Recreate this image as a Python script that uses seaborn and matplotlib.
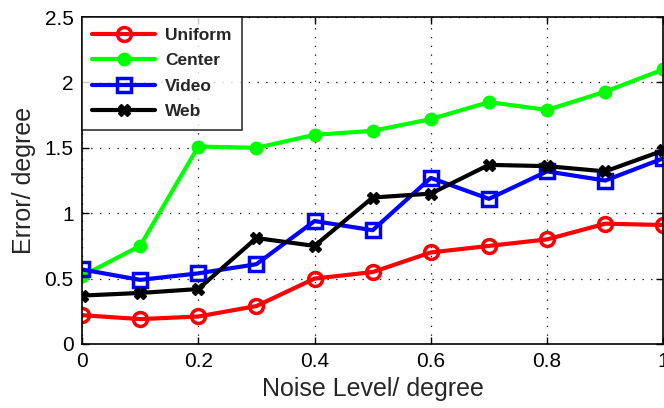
import numpy as np
import pandas as pd
import matplotlib
matplotlib.use("Agg")
import matplotlib.pyplot as plt
import seaborn as sns

noise = [0.0, 0.1, 0.2, 0.3, 0.4, 0.5, 0.6, 0.7, 0.8, 0.9, 1.0]
uniform = [0.22, 0.19, 0.21, 0.29, 0.50, 0.55, 0.70, 0.75, 0.80, 0.92, 0.91]
center = [0.52, 0.75, 1.51, 1.50, 1.60, 1.63, 1.72, 1.85, 1.79, 1.93, 2.10]
video = [0.57, 0.49, 0.54, 0.61, 0.94, 0.87, 1.27, 1.11, 1.32, 1.25, 1.42]
web = [0.37, 0.39, 0.42, 0.81, 0.75, 1.12, 1.15, 1.37, 1.36, 1.32, 1.48]

xticks = [0, 0.2, 0.4, 0.6, 0.8, 1]
xticklabels = ["0", "0.2", "0.4", "0.6", "0.8", "1"]
yticks = [0, 0.5, 1, 1.5, 2, 2.5]
yticklabels = ["0", "0.5", "1", "1.5", "2", "2.5"]

sns.set_theme(style="white")
plt.rcParams["font.family"] = ["Liberation Sans", "DejaVu Sans"]

fig = plt.figure(figsize=(6.64, 4.08), dpi=100)
ax = fig.add_axes([0.1235, 0.157, 0.8755, 0.801])

series = [
    ("Uniform", uniform, dict(color="#ff0000", marker="o", markersize=10,
                              markerfacecolor="none", markeredgewidth=2.5)),
    ("Center", center, dict(color="#00ff00", marker="o", markersize=9,
                            markerfacecolor="#00ff00", markeredgewidth=1)),
    ("Video", video, dict(color="#0000ff", marker="s", markersize=10,
                          markerfacecolor="none", markeredgewidth=2.5)),
    ("Web", web, dict(color="#000000", marker="X", markersize=9,
                      markerfacecolor="#000000", markeredgewidth=1)),
]

for name, vals, style in series:
    df = pd.DataFrame({"noise": noise, "err": vals})
    sns.lineplot(data=df, x="noise", y="err", ax=ax, label=name,
                 linewidth=3, markeredgecolor=style["color"], **style)

ax.set_xlim(0, 1)
ax.set_ylim(0, 2.5)
ax.set_xticks(xticks)
ax.set_xticklabels(xticklabels)
ax.set_yticks(yticks)
ax.set_yticklabels(yticklabels)
ax.tick_params(direction="in", length=5, width=1, labelsize=15, colors="black",
               top=True, right=True, bottom=True, left=True, pad=6)
ax.grid(True, linestyle=(0, (1, 6)), color="black", linewidth=0.9)
for sp in ax.spines.values():
    sp.set_visible(True)
    sp.set_color("black")
    sp.set_linewidth(1.2)

ax.set_xlabel("Noise Level/ degree", fontsize=18, labelpad=4)
ax.set_ylabel("Error/ degree", fontsize=18, labelpad=6)

leg = ax.legend(loc="upper left", frameon=True, fancybox=False,
                prop={"weight": "bold", "size": 12.5}, handlelength=3.6,
                handletextpad=0.6, borderaxespad=0.0, labelspacing=0.6,
                borderpad=0.6)
leg.get_frame().set_edgecolor("black")
leg.get_frame().set_linewidth(1.2)

fig.savefig("out.png", dpi=100)
